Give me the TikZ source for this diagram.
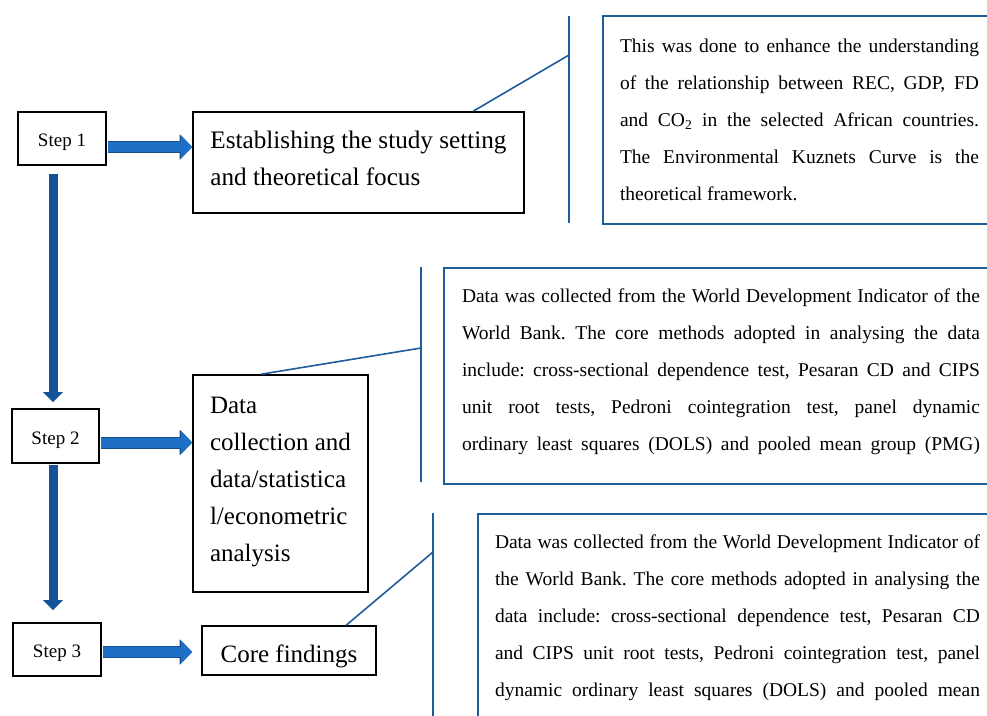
\documentclass[tikz,border=0pt]{standalone}
\usepackage{fontspec}
\setmainfont{Liberation Serif}
\usetikzlibrary{arrows.meta}
\frenchspacing

\definecolor{calloutblue}{RGB}{31,92,156}
\definecolor{flowfill}{RGB}{30,112,198}
\definecolor{flowedge}{RGB}{22,80,145}
\definecolor{spineblue}{RGB}{18,84,150}

\tikzset{
  stepbox/.style={draw=black, line width=1.6pt, minimum width=88, minimum height=53, text height=17pt, text depth=1pt, font=\fontsize{19}{22}\selectfont},
  stagebox/.style={draw=black, line width=1.6pt, inner xsep=18, font=\fontsize{25}{37}\selectfont},
  notebox/.style={draw=calloutblue, line width=2pt, align=justify, font=\fontsize{19.5}{37}\selectfont},
  bracket/.style={draw=calloutblue, line width=2pt},
  leader/.style={draw=calloutblue, line width=1.6pt},
  hflow/.style={draw=flowfill, line width=10pt, -{Triangle[length=11pt,width=23pt,line width=0pt]},
    preaction={draw=flowedge, line width=12pt, -{Triangle[length=12.5pt,width=25.5pt,line width=0pt]}}},
  vflow/.style={draw=spineblue, line width=9pt, -{Triangle[length=10pt,width=20pt,line width=0pt]}}
}

\begin{document}
\begin{tikzpicture}[x=1pt, y=-1pt]
  \useasboundingbox (0,0) rectangle (987,715);
  \clip (0,0) rectangle (987,715);

  % Step boxes
  \node[stepbox] (s1) at (62,138.5) {Step 1};
  \node[stepbox, minimum width=87, minimum height=54] (s2) at (55.5,436) {Step 2};
  \node[stepbox] (s3) at (57,649.5) {Step 3};

  % Stage boxes
  \node[stagebox, minimum width=331, minimum height=101, align=left, inner xsep=17, text depth=8pt,
    font=\fontsize{25.2}{37}\selectfont] (setting) at (358.5,162.5)
    {Establishing the study setting\\and theoretical focus};
  \node[stagebox, minimum width=175, minimum height=217, align=left, inner xsep=17, text depth=8pt] (data) at (280.5,483.5)
    {Data\\collection and\\data/statistica\\l/econometric\\analysis};
  \node[stagebox, minimum width=174, minimum height=49, text height=24pt, text depth=1pt] (core) at (289,650.5) {Core findings};

  % Notes
  \node[notebox, anchor=north west, text width=359, inner xsep=17, minimum height=208] (n1) at (602,15)
    {This was done to enhance the understanding\linebreak
     of the relationship between REC, GDP, FD\linebreak
     and CO\textsubscript{2} in the selected African countries.\linebreak
     The Environmental Kuznets Curve is the\linebreak
     theoretical framework.};
  \node[notebox, anchor=north west, text width=518, inner xsep=18, minimum height=216, text depth=161pt] (n2) at (443,267)
    {Data was collected from the World Development Indicator of the\linebreak
     World Bank. The core methods adopted in analysing the data\linebreak
     include: cross-sectional dependence test, Pesaran CD and CIPS\linebreak
     unit root tests, Pedroni cointegration test, panel dynamic\linebreak
     ordinary least squares (DOLS) and pooled mean group (PMG)\parfillskip=0pt\par};
  \node[notebox, anchor=north west, text width=485, inner xsep=17, inner ysep=21] (n3) at (477,513)
    {Data was collected from the World Development Indicator of\linebreak
     the World Bank. The core methods adopted in analysing the\linebreak
     data include: cross-sectional dependence test, Pesaran CD\linebreak
     and CIPS unit root tests, Pedroni cointegration test, panel\linebreak
     dynamic ordinary least squares (DOLS) and pooled mean\parfillskip=0pt\par};

  % Brackets
  \coordinate (b1top) at (569,16);
  \coordinate (b1bot) at (569,223);
  \coordinate (b1hit) at (569,55);
  \coordinate (b2top) at (421,267);
  \coordinate (b2bot) at (421,482);
  \coordinate (b2hit) at (421,348);
  \coordinate (b3top) at (433,513);
  \coordinate (b3bot) at (433,730);
  \coordinate (b3hit) at (433,552);
  \draw[bracket] (b1top) -- (b1bot);
  \draw[bracket] (b2top) -- (b2bot);
  \draw[bracket] (b3top) -- (b3bot);

  % Leaders
  \draw[leader] ([xshift=281]setting.north west) -- (b1hit);
  \draw[leader] ([xshift=69]data.north west) -- (b2hit);
  \draw[leader] ([xshift=145]core.north west) -- (b3hit);

  % Flow arrows
  \coordinate (a1) at ([yshift=-8.5]s1.east);
  \coordinate (a2) at ([yshift=-6.5]s2.east);
  \coordinate (a3) at ([yshift=-2.5]s3.east);
  \draw[hflow, shorten <=0.8pt] (a1) -- (a1 -| setting.west);
  \draw[hflow, shorten <=0.8pt] (a2) -- (a2 -| data.west);
  \draw[hflow, shorten <=0.8pt, shorten >=9pt] (a3) -- (a3 -| core.west);

  \coordinate (spine) at (53,0);
  \draw[vflow, shorten <=8pt, shorten >=6pt] (s1.south -| spine) -- (s2.north -| spine);
  \draw[vflow, shorten <=0.8pt, shorten >=12pt] (s2.south -| spine) -- (s3.north -| spine);
\end{tikzpicture}
\end{document}
